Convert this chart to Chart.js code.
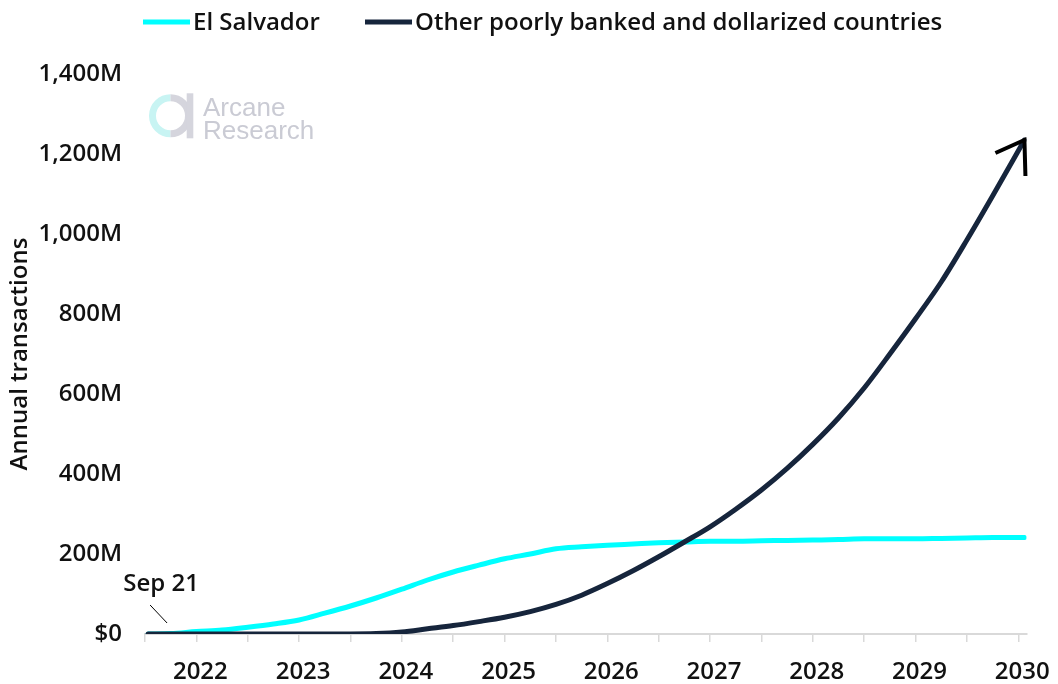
<!DOCTYPE html>
<html>
<head>
<meta charset="utf-8">
<script src="https://cdn.jsdelivr.net/npm/chart.js@4/dist/chart.umd.min.js"></script>
<style>
  html, body { margin: 0; padding: 0; background: #fff; }
  #wrap { width: 1058px; height: 684px; }
</style>
</head>
<body>
<div id="wrap"><canvas id="chart"></canvas></div>
<script>
// quarterly points (fractional years), first one is Sep 21
const periods = [2021.53, 2021.75,
  2022.0, 2022.25, 2022.5, 2022.75, 2023.0, 2023.25, 2023.5, 2023.75,
  2024.0, 2024.25, 2024.5, 2024.75, 2025.0, 2025.25, 2025.5, 2025.75,
  2026.0, 2026.25, 2026.5, 2026.75, 2027.0, 2027.25, 2027.5, 2027.75,
  2028.0, 2028.25, 2028.5, 2028.75, 2029.0, 2029.25, 2029.5, 2029.75,
  2030.06];

// annual transactions, millions
const elSalvador = [0, 1,
  6, 10, 17, 25, 35, 52, 70, 90,
  112, 135, 155, 172, 188, 200, 213, 218,
  222, 225, 228, 230, 232, 232, 233, 234,
  235, 236, 238, 238, 238, 239, 240, 241,
  241];

const otherCountries = [0, 0,
  0, 0, 0, 0, 0, 0, 0, 1,
  5, 13, 21, 31, 42, 56, 74, 97,
  126, 158, 193, 230, 268, 312, 360, 414,
  474, 540, 615, 700, 788, 880, 985, 1095,
  1235];

const seriesNames = ["El Salvador", "Other poorly banked and dollarized countries"];
const seriesColors = ["#00ffff", "#16253c"];

const yearLabels = [2022, 2023, 2024, 2025, 2026, 2027, 2028, 2029, 2030];
const yTicks = [0, 200, 400, 600, 800, 1000, 1200, 1400];
const startNote = "Sep 21";

const FONT = "'Open Sans', 'Noto Sans', sans-serif";

const toPoints = (vals) => vals.map((v, i) => ({ x: periods[i], y: v }));

// logo watermark behind the lines
const watermark = {
  id: "watermark",
  beforeDatasetsDraw(chart) {
    const ctx = chart.ctx;
    ctx.save();
    ctx.lineWidth = 7;
    ctx.strokeStyle = "#c8f4f3";
    ctx.beginPath();
    ctx.arc(170.5, 115.7, 18, Math.PI / 2, Math.PI * 1.5);
    ctx.stroke();
    ctx.strokeStyle = "#d5d5dd";
    ctx.beginPath();
    ctx.arc(170.5, 115.7, 18, -Math.PI / 2, Math.PI / 2);
    ctx.stroke();
    ctx.fillStyle = "#d5d5dd";
    ctx.fillRect(186.7, 93.3, 6.6, 45);
    ctx.fillStyle = "#cacbd4";
    ctx.font = "26px 'Liberation Sans', Arial, sans-serif";
    ctx.textBaseline = "alphabetic";
    ctx.fillText("Arcane", 203, 115.5);
    ctx.fillText("Research", 203, 138.5);
    ctx.restore();
  }
};

// legend line samples + labels across the top
const topLegend = {
  id: "topLegend",
  afterDraw(chart) {
    const ctx = chart.ctx;
    const starts = [143, 365];
    ctx.save();
    ctx.font = "600 24px " + FONT;
    ctx.textBaseline = "middle";
    ctx.fillStyle = "#111";
    seriesNames.forEach((name, i) => {
      const x = starts[i];
      ctx.strokeStyle = seriesColors[i];
      ctx.lineWidth = 5;
      ctx.beginPath();
      ctx.moveTo(x, 22);
      ctx.lineTo(x + 47, 22);
      ctx.stroke();
      ctx.fillText(name, x + 50, 23);
    });
    ctx.restore();
  }
};

// "Sep 21" callout at the first point and arrowhead at the end of the dark line
const callouts = {
  id: "callouts",
  afterDatasetsDraw(chart) {
    const ctx = chart.ctx;
    const xs = chart.scales.x, ys = chart.scales.y;
    const x0 = xs.getPixelForValue(periods[0]);
    const y0 = ys.getPixelForValue(elSalvador[0]);
    ctx.save();
    ctx.strokeStyle = "#000";
    ctx.lineWidth = 1;
    ctx.beginPath();
    ctx.moveTo(x0 + 2, y0 - 29);
    ctx.lineTo(x0 + 19, y0 - 11);
    ctx.stroke();
    ctx.font = "600 24px " + FONT;
    ctx.fillStyle = "#111";
    ctx.textAlign = "center";
    ctx.textBaseline = "middle";
    ctx.fillText(startNote, x0 + 13, y0 - 50);

    const last = periods.length - 1;
    const tx = xs.getPixelForValue(periods[last]);
    const ty = ys.getPixelForValue(otherCountries[last]);
    ctx.lineWidth = 4;
    ctx.lineCap = "butt";
    ctx.lineJoin = "miter";
    ctx.beginPath();
    ctx.moveTo(tx - 29, ty + 13);
    ctx.lineTo(tx, ty);
    ctx.lineTo(tx + 1, ty + 36);
    ctx.stroke();
    ctx.restore();
  }
};

new Chart(document.getElementById("chart"), {
  type: "line",
  data: {
    datasets: [
      {
        label: seriesNames[0],
        data: toPoints(elSalvador),
        borderColor: seriesColors[0],
        borderWidth: 5,
        pointRadius: 0,
        cubicInterpolationMode: "monotone",
        borderCapStyle: "round",
        borderJoinStyle: "round",
        order: 1,
      },
      {
        label: seriesNames[1],
        data: toPoints(otherCountries),
        borderColor: seriesColors[1],
        borderWidth: 5,
        pointRadius: 0,
        cubicInterpolationMode: "monotone",
        borderCapStyle: "round",
        borderJoinStyle: "round",
        order: 0,
      },
    ],
  },
  options: {
    responsive: true,
    maintainAspectRatio: false,
    animation: false,
    layout: { padding: { top: 74, right: 31, bottom: 0, left: 0 } },
    plugins: {
      legend: { display: false },
      tooltip: { enabled: false },
    },
    scales: {
      x: {
        type: "linear",
        min: 2021.5,
        max: 2030.08,
        afterBuildTicks: (scale) => {
          const ticks = [];
          for (let v = 2021.5; v <= 2030; v += 0.5) ticks.push({ value: v });
          scale.ticks = ticks;
        },
        afterFit: (scale) => { scale.height = 50; },
        grid: {
          display: true,
          drawOnChartArea: false,
          drawTicks: true,
          // labels sit further down than the short tick marks reach
          tickLength: 12,
          tickBorderDash: [7, 40],
          color: "#d9d9d9",
          lineWidth: 1.5,
        },
        border: { display: true, color: "#d9d9d9", width: 2 },
        ticks: {
          autoSkip: false,
          maxRotation: 0,
          labelOffset: 4,
          padding: 12,
          color: "#111",
          font: { family: FONT, size: 24, weight: "600" },
          callback: (v) => (yearLabels.includes(v) ? String(v) : ""),
        },
      },
      y: {
        min: 0,
        max: 1400,
        afterBuildTicks: (scale) => {
          scale.ticks = yTicks.map((v) => ({ value: v }));
        },
        afterFit: (scale) => { scale.width = 145; },
        grid: { display: false, drawTicks: false },
        border: { display: false },
        ticks: {
          padding: 23,
          color: "#111",
          font: { family: FONT, size: 24, weight: "600" },
          callback: (v) => (v === 0 ? "$0" : v.toLocaleString("en-US") + "M"),
        },
        title: {
          display: true,
          text: "Annual transactions",
          color: "#111",
          padding: { top: 6, bottom: 0 },
          font: { family: FONT, size: 24, weight: "600" },
        },
      },
    },
  },
  plugins: [watermark, topLegend, callouts],
});
</script>
</body>
</html>
